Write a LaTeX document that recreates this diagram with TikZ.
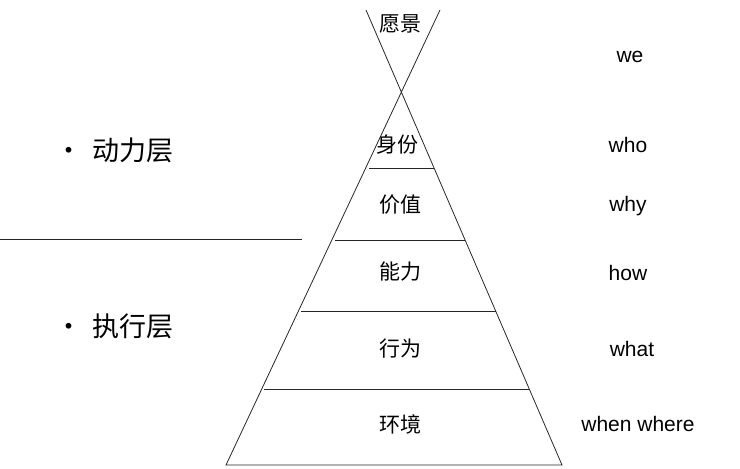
\documentclass[tikz,border=0pt]{standalone}
\usepackage{fontspec}
\setmainfont{Liberation Sans}
\newfontfamily\cjk{Noto Sans CJK SC}
\begin{document}
\begin{tikzpicture}[x=1pt,y=-1pt,
  cn/.style={font=\cjk\fontsize{21}{21}\selectfont,inner sep=0pt},
  en/.style={font=\fontsize{21}{21}\selectfont,inner sep=0pt},
  big/.style={font=\cjk\fontsize{27}{27}\selectfont,inner sep=0pt},
  ln/.style={line width=0.8pt,black!85}]
\useasboundingbox (0,0) rectangle (740,469);
\coordinate (lt) at (440,10);
\coordinate (lb) at (226,465);
\coordinate (rt) at (366,10);
\coordinate (rb) at (562,465);
\draw[ln] (lt) -- (lb) -- (rb) -- (rt);
\draw[ln] (369,168) -- (434,168);
\draw[ln] (335,240) -- (465,240);
\draw[ln] (301,311) -- (496,311);
\draw[ln] (264,389) -- (530,389);
\draw[ln] (0,239) -- (302,239);
\node[cn] (v) at (400,24) {愿景};
\node[cn] (a) at (397,145) {身份};
\node[cn] (b) at (400,205) {价值};
\node[cn] (c) at (400,272) {能力};
\node[cn] (d) at (400,349) {行为};
\node[cn] (e) at (400,424) {环境};
\node[en] (we) at (630,57) {we};
\node[en] (who) at (628,145) {who};
\node[en] (why) at (628,206) {why};
\node[en] (how) at (628,273) {how};
\node[en] (what) at (632,349) {what};
\node[en] (ww) at (638,424) {when where};
\node[big,anchor=west] (p1) at (55,150) {•\hspace{10pt}动力层};
\node[big,anchor=west] (p2) at (55,326) {•\hspace{10pt}执行层};
\end{tikzpicture}
\end{document}
